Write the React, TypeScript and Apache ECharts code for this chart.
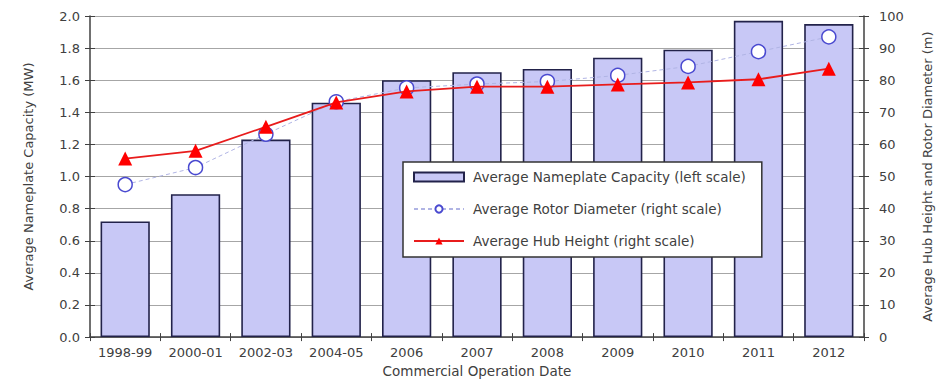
import React, { useEffect, useRef } from "react";
import * as echarts from "echarts";

const categories = ["1998-99", "2000-01", "2002-03", "2004-05", "2006", "2007", "2008", "2009", "2010", "2011", "2012"];
const capacityMW = [0.72, 0.89, 1.23, 1.46, 1.6, 1.65, 1.67, 1.74, 1.79, 1.97, 1.95];
const rotorDiameter = [47.5, 52.8, 63.2, 73.3, 77.6, 78.8, 79.6, 81.5, 84.3, 88.9, 93.5];
const hubHeight = [55.6, 58.0, 65.5, 73.1, 76.5, 78.0, 78.0, 78.7, 79.3, 80.3, 83.6];

const FONT = "DejaVu Sans";
const TXT = "#404040";
const AX = "#404040";

export default function App() {
  const ref = useRef<HTMLDivElement>(null);
  useEffect(() => {
    const chart = echarts.init(ref.current!, null, { renderer: "svg" });
    chart.setOption({
      animation: false,
      backgroundColor: "#ffffff",
      textStyle: { fontFamily: FONT },
      grid: { left: 90, right: 79, top: 16, bottom: 43 },
      legend: {
        orient: "vertical",
        left: 403,
        top: 162,
        selectedMode: false,
        backgroundColor: "#ffffff",
        borderColor: "#333333",
        borderWidth: 1.5,
        borderRadius: 0,
        padding: [8, 16, 9, 10],
        itemWidth: 50,
        itemHeight: 9,
        itemGap: 18,
        textStyle: { fontFamily: FONT, fontSize: 13.5, color: TXT, padding: [0, 0, 0, 4] },
        data: [
          { name: "Average Nameplate Capacity (left scale)", icon: "rect" },
          { name: "Average Rotor Diameter (right scale)" },
          { name: "Average Hub Height (right scale)" },
        ],
      },
      xAxis: [
        {
          type: "category",
          data: categories,
          position: "bottom",
          name: "Commercial Operation Date",
          nameLocation: "middle",
          nameGap: 26,
          nameTextStyle: { fontFamily: FONT, fontSize: 13.5, color: TXT },
          axisLine: { lineStyle: { color: AX, width: 1.5 } },
          axisTick: { show: true, interval: 0, length: 4, lineStyle: { color: AX } },
          axisLabel: { fontFamily: FONT, fontSize: 13, color: TXT, margin: 9, interval: 0, hideOverlap: false },
          splitLine: { show: false },
        },
        {
          type: "category",
          data: categories,
          position: "bottom",
          axisLine: { show: false },
          axisTick: { show: true, interval: 0, inside: true, length: 4, lineStyle: { color: AX } },
          axisLabel: { show: false, interval: 0 },
          splitLine: { show: false },
        },
      ],
      yAxis: [
        {
          type: "value",
          position: "left",
          min: 0,
          max: 2,
          interval: 0.2,
          name: "Average Nameplate Capacity (MW)",
          nameLocation: "middle",
          nameRotate: 90,
          nameGap: 55,
          nameTextStyle: { fontFamily: FONT, fontSize: 13, color: TXT },
          axisLine: { show: true, lineStyle: { color: AX, width: 1.5 } },
          axisTick: { show: true, length: 5, lineStyle: { color: AX } },
          axisLabel: { fontFamily: FONT, fontSize: 13, color: TXT, margin: 10, formatter: (v: number) => v.toFixed(1) },
          splitLine: { show: true, lineStyle: { color: "#a6a6a6", width: 1 } },
        },
        {
          type: "value",
          position: "right",
          min: 0,
          max: 100,
          interval: 10,
          name: "Average Hub Height and Rotor Diameter (m)",
          nameLocation: "middle",
          nameRotate: 90,
          nameGap: 57,
          nameTextStyle: { fontFamily: FONT, fontSize: 13, color: TXT },
          axisLine: { show: true, lineStyle: { color: AX, width: 1.5 } },
          axisTick: { show: true, length: 5, lineStyle: { color: AX } },
          axisLabel: { fontFamily: FONT, fontSize: 13, color: TXT, margin: 15 },
          splitLine: { show: false },
        },
        {
          type: "value",
          position: "left",
          min: 0,
          max: 2,
          interval: 0.2,
          axisLine: { show: false },
          axisTick: { show: true, inside: true, length: 5, lineStyle: { color: AX } },
          axisLabel: { show: false },
          splitLine: { show: false },
        },
        {
          type: "value",
          position: "right",
          min: 0,
          max: 100,
          interval: 10,
          axisLine: { show: false },
          axisTick: { show: true, inside: true, length: 5, lineStyle: { color: AX } },
          axisLabel: { show: false },
          splitLine: { show: false },
        },
      ],
      series: [
        {
          name: "Average Nameplate Capacity (left scale)",
          type: "bar",
          xAxisIndex: 0,
          yAxisIndex: 0,
          data: capacityMW,
          barCategoryGap: "30%",
          itemStyle: { color: "#c8c8f6", borderColor: "#22224a", borderWidth: 1.6 },
        },
        {
          name: "Average Rotor Diameter (right scale)",
          type: "line",
          xAxisIndex: 0,
          yAxisIndex: 1,
          data: rotorDiameter,
          symbol: "circle",
          symbolSize: 14,
          lineStyle: { color: "#b0b4e4", width: 1, type: [4, 3] },
          itemStyle: { color: "#ffffff", borderColor: "#4a4ad0", borderWidth: 1.5 },
          z: 3,
        },
        {
          name: "Average Hub Height (right scale)",
          type: "line",
          xAxisIndex: 0,
          yAxisIndex: 1,
          data: hubHeight,
          symbol: "triangle",
          symbolSize: 14,
          lineStyle: { color: "#e81c1c", width: 1.8 },
          itemStyle: { color: "#ff0000", borderColor: "#ff0000", borderWidth: 0 },
          z: 4,
        },
      ],
    });
    return () => chart.dispose();
  }, []);
  return (
    <div
      ref={ref}
      style={{ position: "fixed", left: 0, top: 0, width: 943, height: 383, background: "#fff" }}
    />
  );
}
